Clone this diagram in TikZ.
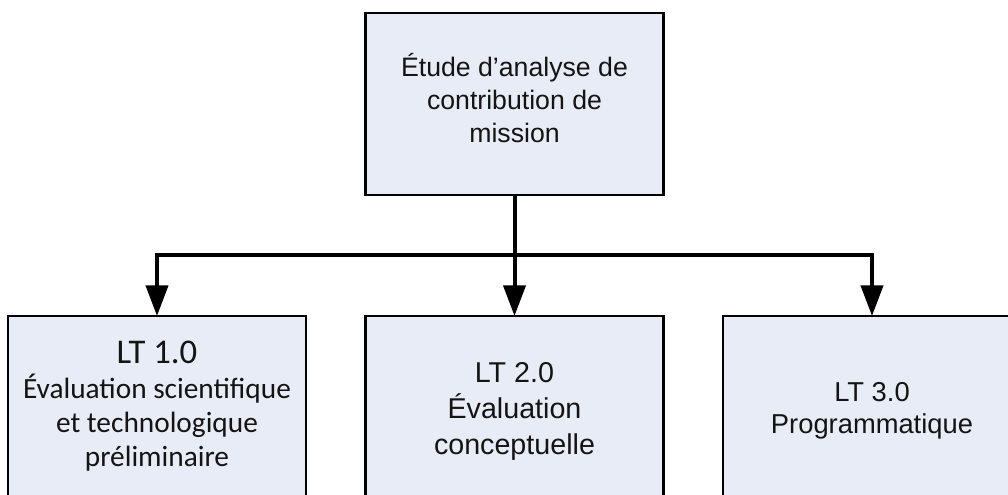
\documentclass[tikz,border=0pt]{standalone}
\usepackage{fontspec}
\setmainfont{Liberation Sans}
\newfontfamily\calfont{Carlito}
\usetikzlibrary{arrows.meta}
\definecolor{boxfill}{HTML}{E8ECF6}
\definecolor{txt}{HTML}{141414}
\newcommand{\bigLT}{\fontsize{26}{30}\selectfont}
\newcommand{\smallLT}{\fontsize{22}{25.5}\selectfont}
\begin{document}
\begin{tikzpicture}[x=0.75pt,y=-0.75pt,
  boxnode/.style={draw=black,line width=1.7pt,fill=boxfill,rectangle,
    minimum width=223.5pt,inner sep=0pt,outer sep=0pt},
  boxtext/.style={align=center,text=txt,inner sep=0pt},
  link/.style={draw=black,line width=3pt,line join=miter},
  arr/.style={link,-{Triangle[width=16.5pt,length=23pt]}}]
\useasboundingbox (0,0) rectangle (1008,494);
\clip (0,0) rectangle (1008,494);
\fill[white] (0,0) rectangle (1008,494);
\node[boxnode,minimum height=136.5pt] (top) at (514.5,104) {};
\node[boxnode,minimum height=138pt] (lt1) at (157,408) {};
\node[boxnode,minimum height=138pt] (lt2) at (514.5,408) {};
\node[boxnode,minimum height=138pt] (lt3) at (872,408) {};
\node[boxtext,font=\fontsize{20}{24.75}\selectfont] (toptext) at (514.5,98)
  {Étude d’analyse de\\contribution de\\mission};
\node[boxtext,font=\fontsize{21.5}{27}\selectfont] (lt2text) at (514.5,411)
  {LT 2.0\\Évaluation\\conceptuelle};
\node[boxtext,font=\fontsize{20.5}{24}\selectfont] (lt3text) at (872,411)
  {LT 3.0\\Programmatique};
\node[boxtext,font=\calfont\smallLT] (lt1text) at (157,406)
  {\bigLT LT 1.0\\[1pt]\smallLT Évaluation scientifique\\\smallLT et technologique\\\smallLT préliminaire};
\coordinate (j) at (514.5,255);
\draw[link] (top.south) -- (j);
\draw[arr] (j) -- (lt2.north);
\draw[arr] (j) -| (lt1.north);
\draw[arr] (j) -| (lt3.north);
\end{tikzpicture}
\end{document}
